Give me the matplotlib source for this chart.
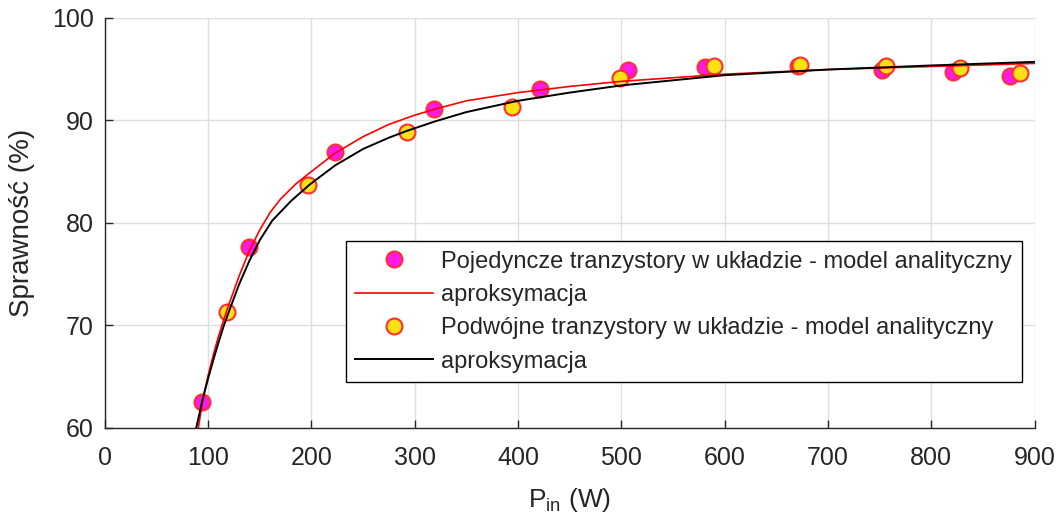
import matplotlib
matplotlib.use("Agg")
import matplotlib.pyplot as plt

plt.rcParams['font.family'] = ['Liberation Sans', 'DejaVu Sans']
plt.rcParams['mathtext.fontset'] = 'custom'
plt.rcParams['mathtext.rm'] = 'Liberation Sans'

# Single transistors - analytical model (markers)
single_x = [94, 140, 223, 319, 421, 506, 581, 671, 752, 821, 876]
single_y = [62.5, 77.6, 86.9, 91.1, 93.1, 94.9, 95.2, 95.3, 94.9, 94.7, 94.3]

# Double transistors - analytical model (markers)
double_x = [118, 197, 292, 394, 499, 590, 673, 756, 828, 886]
double_y = [71.3, 83.7, 88.9, 91.3, 94.1, 95.3, 95.4, 95.3, 95.15, 94.65]

# Approximation curves
red_x = [90.5, 95, 100, 105, 110, 115, 120, 130, 140, 150, 160, 170, 185, 200,
         223, 250, 275, 300, 320, 350, 400, 450, 500, 600, 700, 800, 900]
red_y = [60.0, 62.8, 65.1, 67.1, 68.9, 70.5, 72.0, 74.8, 77.3, 79.3, 81.0, 82.3,
         83.8, 85.0, 86.8, 88.4, 89.6, 90.5, 91.1, 91.9, 92.7, 93.3, 93.8, 94.5,
         94.95, 95.25, 95.55]

black_x = [88.5, 95, 100, 105, 110, 115, 120, 130, 140, 150, 162, 180, 198, 223,
           250, 275, 292, 320, 350, 400, 450, 500, 600, 700, 800, 900]
black_y = [60.0, 62.9, 64.8, 66.6, 68.3, 69.9, 71.3, 74.0, 76.3, 78.3, 80.2, 82.1,
           83.7, 85.6, 87.2, 88.3, 88.95, 89.9, 90.8, 91.9, 92.7, 93.4, 94.4,
           94.95, 95.35, 95.7]

labels = ["Pojedyncze tranzystory w układzie - model analityczny",
          "aproksymacja",
          "Podwójne tranzystory w układzie - model analityczny",
          "aproksymacja"]

x_ticks = [0, 100, 200, 300, 400, 500, 600, 700, 800, 900]
y_ticks = [60, 70, 80, 90, 100]

fig = plt.figure(figsize=(10.59, 5.24), dpi=100)
ax = fig.add_axes([0.099, 0.184, 0.878, 0.782])

txt = '#262626'
ax.grid(True, color='#dedede', linewidth=1.0)
ax.set_axisbelow(True)

h1, = ax.plot(single_x, single_y, 'o', markersize=11.5, markerfacecolor='#ff1ae8',
              markeredgecolor='#ff3030', markeredgewidth=1.5, zorder=3)
h2, = ax.plot(red_x, red_y, '-', color='#ff0000', linewidth=1.2, zorder=4)
h3, = ax.plot(double_x, double_y, 'o', markersize=11.5, markerfacecolor='#ffe014',
              markeredgecolor='#ff3030', markeredgewidth=1.5, zorder=3)
h4, = ax.plot(black_x, black_y, '-', color='#000000', linewidth=1.4, zorder=4)

ax.set_xlim(0, 900)
ax.set_ylim(60, 100)
ax.set_xticks(x_ticks)
ax.set_yticks(y_ticks)
ax.tick_params(direction='in', length=6, width=1.0, colors=txt, labelsize=18)
ax.tick_params(axis='x', pad=13)
ax.tick_params(axis='y', pad=8)
for s in ['top', 'right']:
    ax.spines[s].set_visible(False)
for s in ['left', 'bottom']:
    ax.spines[s].set_color(txt)
    ax.spines[s].set_linewidth(1.0)

ax.set_xlabel(r'P$_{\mathregular{in}}$ (W)', fontsize=19, color=txt, labelpad=12)
ax.set_ylabel('Sprawność (%)', fontsize=20, color=txt, labelpad=12)

leg = ax.legend([h1, h2, h3, h4], labels, loc='lower right',
                bbox_to_anchor=(0.986, 0.111), borderaxespad=0, fontsize=17,
                frameon=True, fancybox=False, framealpha=1, edgecolor='#000000',
                handlelength=3.3, handletextpad=0.34, labelspacing=0.48,
                borderpad=0.4, numpoints=1)
leg.get_frame().set_linewidth(1.0)
for t in leg.get_texts():
    t.set_color(txt)

fig.savefig('out.png', dpi=100)
